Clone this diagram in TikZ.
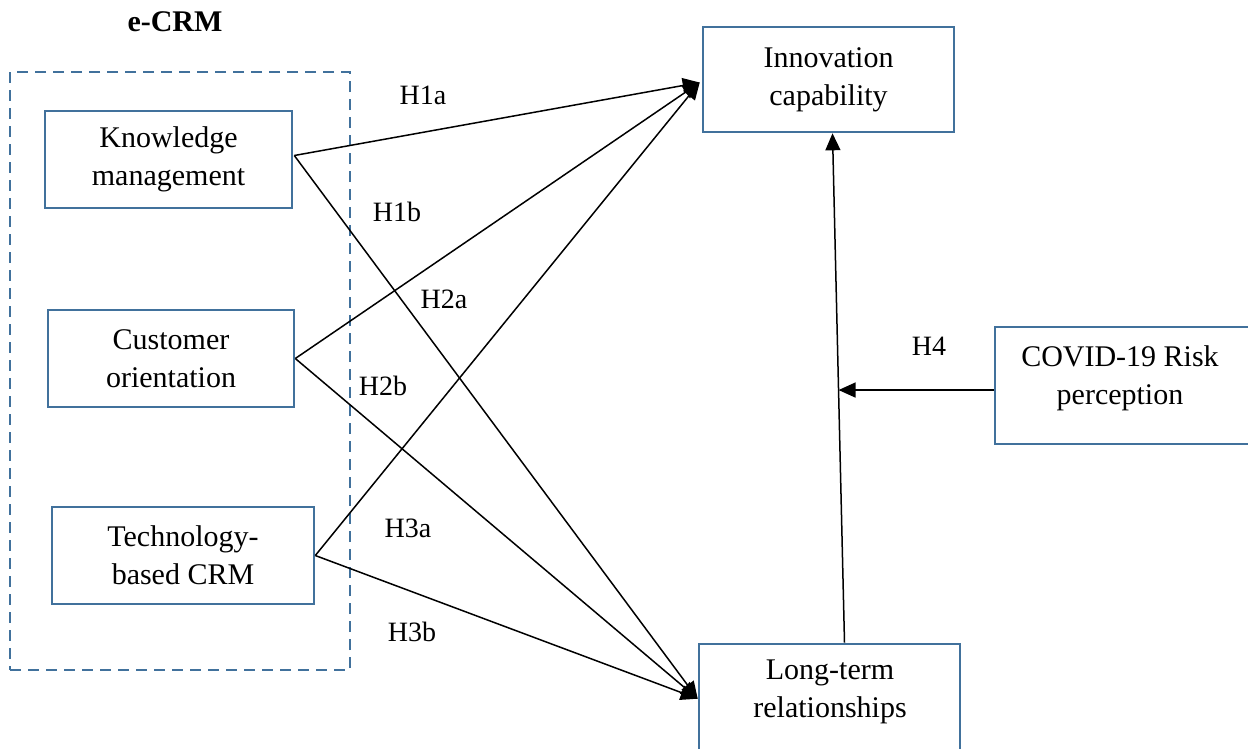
\documentclass[tikz,border=0pt]{standalone}
\usepackage{fontspec}
\setmainfont{Liberation Serif}
\usetikzlibrary{arrows.meta,calc}
\definecolor{boxblue}{RGB}{65,113,156}
\begin{document}
\begin{tikzpicture}[x=1pt,y=-1pt,
  box/.style={draw=boxblue,line width=2.6pt,inner sep=0pt,align=center,
    font=\fontsize{30}{38}\selectfont},
  txt/.style={inner sep=0pt,align=center,font=\fontsize{30}{38}\selectfont},
  hlab/.style={inner sep=0pt,font=\fontsize{28}{32}\selectfont},
  conn/.style={line width=1.5pt,-{Triangle[length=17pt,width=15pt]}},
  plain/.style={line width=1.5pt}]
\useasboundingbox (0,0) rectangle (1248,748);
\fill[white] (0,0) rectangle (1248,748);
% group
\node[draw=boxblue,line width=2.6pt,dash pattern=on 11pt off 7pt,minimum width=340pt,minimum height=598pt,inner sep=0pt] (grp) at (180,371) {};
\node[inner sep=0pt,font=\fontsize{30}{36}\selectfont\bfseries] (title) at (175,22) {e-CRM};
% left boxes
\node[box,minimum width=247pt,minimum height=97pt] (km) at (168.5,159.5) {Knowledge\\management};
\node[box,minimum width=246pt,minimum height=97pt] (co) at (171,358.5) {Customer\\orientation};
\node[box,minimum width=262pt,minimum height=97pt] (tc) at (183,555.5) {Technology-\\based CRM};
% right boxes
\node[box,minimum width=251pt,minimum height=105pt] (ic) at (828.5,79.5) {Innovation\\capability};
\node[draw=boxblue,line width=2.6pt,inner sep=0pt,minimum width=261pt,minimum height=126pt] (ltr) at (829.5,707) {};
\node[txt] (ltrtext) at (830,692) {Long-term\\relationships};
\node[draw=boxblue,line width=2.6pt,inner sep=0pt,minimum width=257pt,minimum height=117pt] (cov) at (1123.5,385.5) {};
\node[txt] (covtext) at (1120,378) {COVID-19 Risk\\perception};
% anchor coordinates
\coordinate (icin) at ([xshift=-2pt,yshift=-3pt]ic.west);
\coordinate (ltrin) at ([xshift=0pt,yshift=-56pt]ltr.north west);
\coordinate (kmout) at ([xshift=1pt,yshift=4pt]km.east);
\coordinate (ltrtop) at ([xshift=15pt]ltr.north);
\coordinate (icbot) at ([xshift=4pt]ic.south);
\coordinate (mid) at ($(ltrtop)!0.496!(icbot)$);
% connectors
\draw[conn] (kmout) -- (icin);
\draw[conn] (kmout) -- (ltrin);
\draw[conn] (co.east) -- (icin);
\draw[conn] (co.east) -- (ltrin);
\draw[conn] (tc.east) -- (icin);
\draw[conn] (tc.east) -- (ltrin);
\draw[conn] (ltrtop) -- (icbot);
\draw[conn] (cov.west |- mid) -- (mid);
% labels
\node[hlab] (h1a) at (423,95) {H1a};
\node[hlab] (h1b) at (397,212) {H1b};
\node[hlab] (h2a) at (444,299) {H2a};
\node[hlab] (h2b) at (383,386) {H2b};
\node[hlab] (h3a) at (408,528) {H3a};
\node[hlab] (h3b) at (412,632) {H3b};
\node[hlab] (h4) at (929,346) {H4};
\end{tikzpicture}
\end{document}
